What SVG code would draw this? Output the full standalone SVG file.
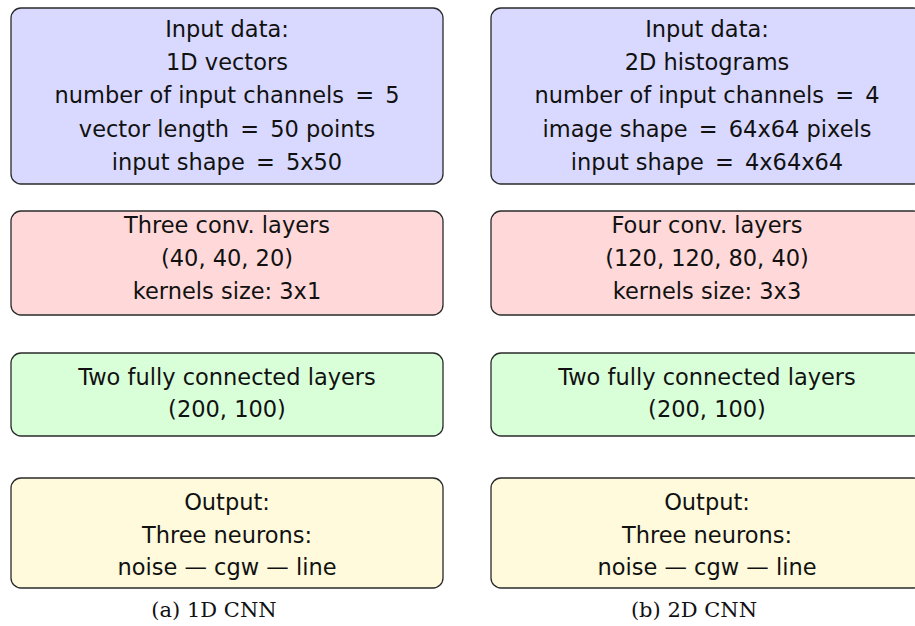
<svg xmlns="http://www.w3.org/2000/svg" width="915" height="626" viewBox="0 0 915 626">
<style>
.box{stroke:#2a2a2a;stroke-width:1.3}
.blue{fill:#d9d9ff}.red{fill:#ffd9d9}.green{fill:#d9ffd9}.yellow{fill:#fffadc}
.t{font-family:"DejaVu Sans",sans-serif;font-size:22.5px;fill:#111;text-anchor:middle}
.cap{font-family:"DejaVu Serif",serif;font-size:21px;fill:#111;text-anchor:middle}
</style>
<rect width="915" height="626" fill="#fff"/>
<g id="connectors"/>
<g id="in1d">
<rect class="box blue" x="11" y="8" width="432" height="176" rx="10"/>
<text class="t" x="227" y="37">Input data:</text>
<text class="t" x="227" y="70">1D vectors</text>
<text class="t" x="227" y="103">number of input channels <tspan dx="4">=</tspan> <tspan dx="4">5</tspan></text>
<text class="t" x="227" y="137">vector length <tspan dx="4">=</tspan> <tspan dx="4">50 points</tspan></text>
<text class="t" x="227" y="170">input shape <tspan dx="4">=</tspan> <tspan dx="4">5x50</tspan></text>
</g>
<g id="conv1d">
<rect class="box red" x="11" y="211" width="432" height="104" rx="10"/>
<text class="t" x="227" y="233">Three conv. layers</text>
<text class="t" x="227" y="266">(40, 40, 20)</text>
<text class="t" x="227" y="299">kernels size: 3x1</text>
</g>
<g id="fc1d">
<rect class="box green" x="11" y="353" width="432" height="83" rx="10"/>
<text class="t" x="227" y="385">Two fully connected layers</text>
<text class="t" x="227" y="417">(200, 100)</text>
</g>
<g id="out1d">
<rect class="box yellow" x="11" y="478" width="432" height="110" rx="10"/>
<text class="t" x="227" y="510">Output:</text>
<text class="t" x="227" y="543">Three neurons:</text>
<text class="t" x="227" y="575">noise — cgw — line</text>
</g>
<g id="cap1d"><text class="cap" x="214" y="617">(a) 1D CNN</text></g>
<g id="in2d">
<rect class="box blue" x="491" y="8" width="432" height="176" rx="10"/>
<text class="t" x="707" y="37">Input data:</text>
<text class="t" x="707" y="70">2D histograms</text>
<text class="t" x="707" y="103">number of input channels <tspan dx="4">=</tspan> <tspan dx="4">4</tspan></text>
<text class="t" x="707" y="137">image shape <tspan dx="4">=</tspan> <tspan dx="4">64x64 pixels</tspan></text>
<text class="t" x="707" y="170">input shape <tspan dx="4">=</tspan> <tspan dx="4">4x64x64</tspan></text>
</g>
<g id="conv2d">
<rect class="box red" x="491" y="211" width="432" height="104" rx="10"/>
<text class="t" x="707" y="233">Four conv. layers</text>
<text class="t" x="707" y="266">(120, 120, 80, 40)</text>
<text class="t" x="707" y="299">kernels size: 3x3</text>
</g>
<g id="fc2d">
<rect class="box green" x="491" y="353" width="432" height="83" rx="10"/>
<text class="t" x="707" y="385">Two fully connected layers</text>
<text class="t" x="707" y="417">(200, 100)</text>
</g>
<g id="out2d">
<rect class="box yellow" x="491" y="478" width="432" height="110" rx="10"/>
<text class="t" x="707" y="510">Output:</text>
<text class="t" x="707" y="543">Three neurons:</text>
<text class="t" x="707" y="575">noise — cgw — line</text>
</g>
<g id="cap2d"><text class="cap" x="694" y="617">(b) 2D CNN</text></g>
</svg>
